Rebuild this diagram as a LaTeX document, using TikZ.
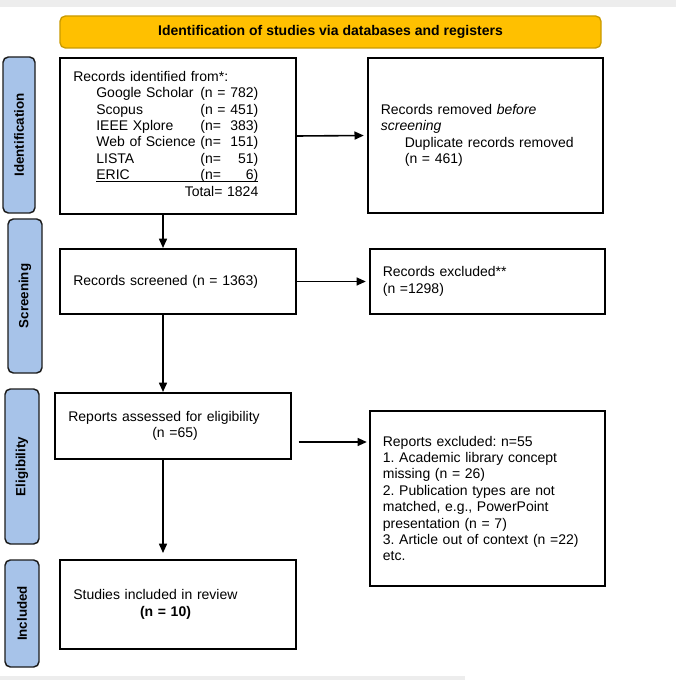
\documentclass[tikz,border=0pt]{standalone}
\usepackage{fontspec}
\setmainfont{Liberation Sans}
\usepackage{tikz}
\usetikzlibrary{arrows.meta,positioning}
\frenchspacing
\definecolor{banner}{HTML}{FFC000}
\definecolor{bannerline}{HTML}{C99A00}
\definecolor{phase}{HTML}{A7C3E9}
\definecolor{phaseline}{HTML}{1C1C1C}
\definecolor{chrome}{HTML}{EDEDED}
\tikzset{
  recbox/.style={draw=black,line width=1.5pt,fill=white,align=left,inner xsep=9.75pt,inner ysep=0pt,text width=157pt},
  phasebox/.style={draw=phaseline,fill=phase,line width=1.1pt,rounded corners=4pt,rotate=90,minimum height=24pt,inner sep=0pt,font=\bfseries\fontsize{10}{12}\selectfont},
  bannerbox/.style={draw=bannerline,fill=banner,line width=1pt,rounded corners=4pt,minimum width=405.75pt,minimum height=24pt,inner sep=0pt,font=\bfseries\fontsize{10.5}{12}\selectfont},
  varr/.style={-{Triangle[length=7pt,width=6pt]},line width=1.2pt,draw=black}
}

\begin{document}
\begin{tikzpicture}[x=0.75pt,y=-0.75pt,font=\fontsize{10.5}{12.3}\selectfont]
  \useasboundingbox (0,0) rectangle (676,680);
  \fill[chrome] (0,0) rectangle (676,7);
  \fill[chrome] (0,676) rectangle (465,680);
  \node[bannerbox] (head) at (330.5,32) {Identification of studies via databases and registers};
  % phases
  \node[phasebox,minimum width=117pt] (pid) at (19,135) {Identification};
  \node[phasebox,minimum width=115.5pt,minimum height=25.5pt] (psc) at (25,296) {Screening};
  \node[phasebox,minimum width=116.25pt,minimum height=25.5pt] (pel) at (22,466.5) {Eligibility};
  \node[phasebox,minimum width=80.25pt,minimum height=25.5pt] (pin) at (22,613.5) {Included};
  % flow
  \node[recbox,minimum height=117pt] (ident) at (178,136) {Records identified from*:\\
    \hspace*{17.25pt}\begin{tabular}[t]{@{}l@{\ }l@{\ }r@{}}
      Google Scholar & (n = & 782)\\
      Scopus & (n = & 451)\\
      IEEE Xplore & (n= & 383)\\
      Web of Science & (n= & 151)\\
      LISTA & (n= & 51)\\
      ERIC & (n= & 6)\\[-3pt]\cline{1-3}\noalign{\vskip 3pt}
      \multicolumn{3}{r@{}}{Total= 1824}
    \end{tabular}};
  \node[recbox,minimum height=116.25pt] (removed) at (485.5,135.5) {Records removed \textit{before}\\
    \textit{screening}\\
    \hspace*{18pt}Duplicate records removed\\
    \hspace*{18pt}(n = 461)};
  \node[recbox,minimum height=48.75pt] (screen) at (178,281.5) {Records screened (n = 1363)};
  \node[recbox,minimum height=48.75pt] (excl) at (487.5,281.5) {Records excluded**\\(n =1298)};
  \node[recbox,minimum height=49.5pt] (assess) at (173,426) {Reports assessed for eligibility\\
    \hspace*{63pt}(n =65)};
  \node[recbox,minimum height=131.25pt] (repex) at (487.5,498.5) {Reports excluded: n=55\\
    1. Academic library concept\\
    missing (n = 26)\\
    2. Publication types are not\\
    matched, e.g., PowerPoint\\
    presentation (n = 7)\\
    3. Article out of context (n =22)\\
    etc.};
  \node[recbox,minimum height=66.75pt] (incl) at (178,604.5) {Studies included in review\\
    \hspace*{50pt}\textbf{(n = 10)}};
  \coordinate (spine) at (163,0);
  \coordinate (eligrow) at (0,442);
  \draw[varr] (ident.south -| spine) -- (screen.north -| spine);
  \draw[varr] (screen.south -| spine) -- (assess.north -| spine);
  \draw[varr,shorten >=4.5pt] (assess.south -| spine) -- (incl.north -| spine);
  \draw[varr,shorten >=2.25pt] (ident.east) -- (removed.west);
  \draw[varr,shorten >=2.25pt] (screen.east) -- (excl.west);
  \draw[varr,shorten <=5.25pt,shorten >=1.5pt] (assess.east |- eligrow) -- (repex.west |- eligrow);
\end{tikzpicture}
\end{document}
